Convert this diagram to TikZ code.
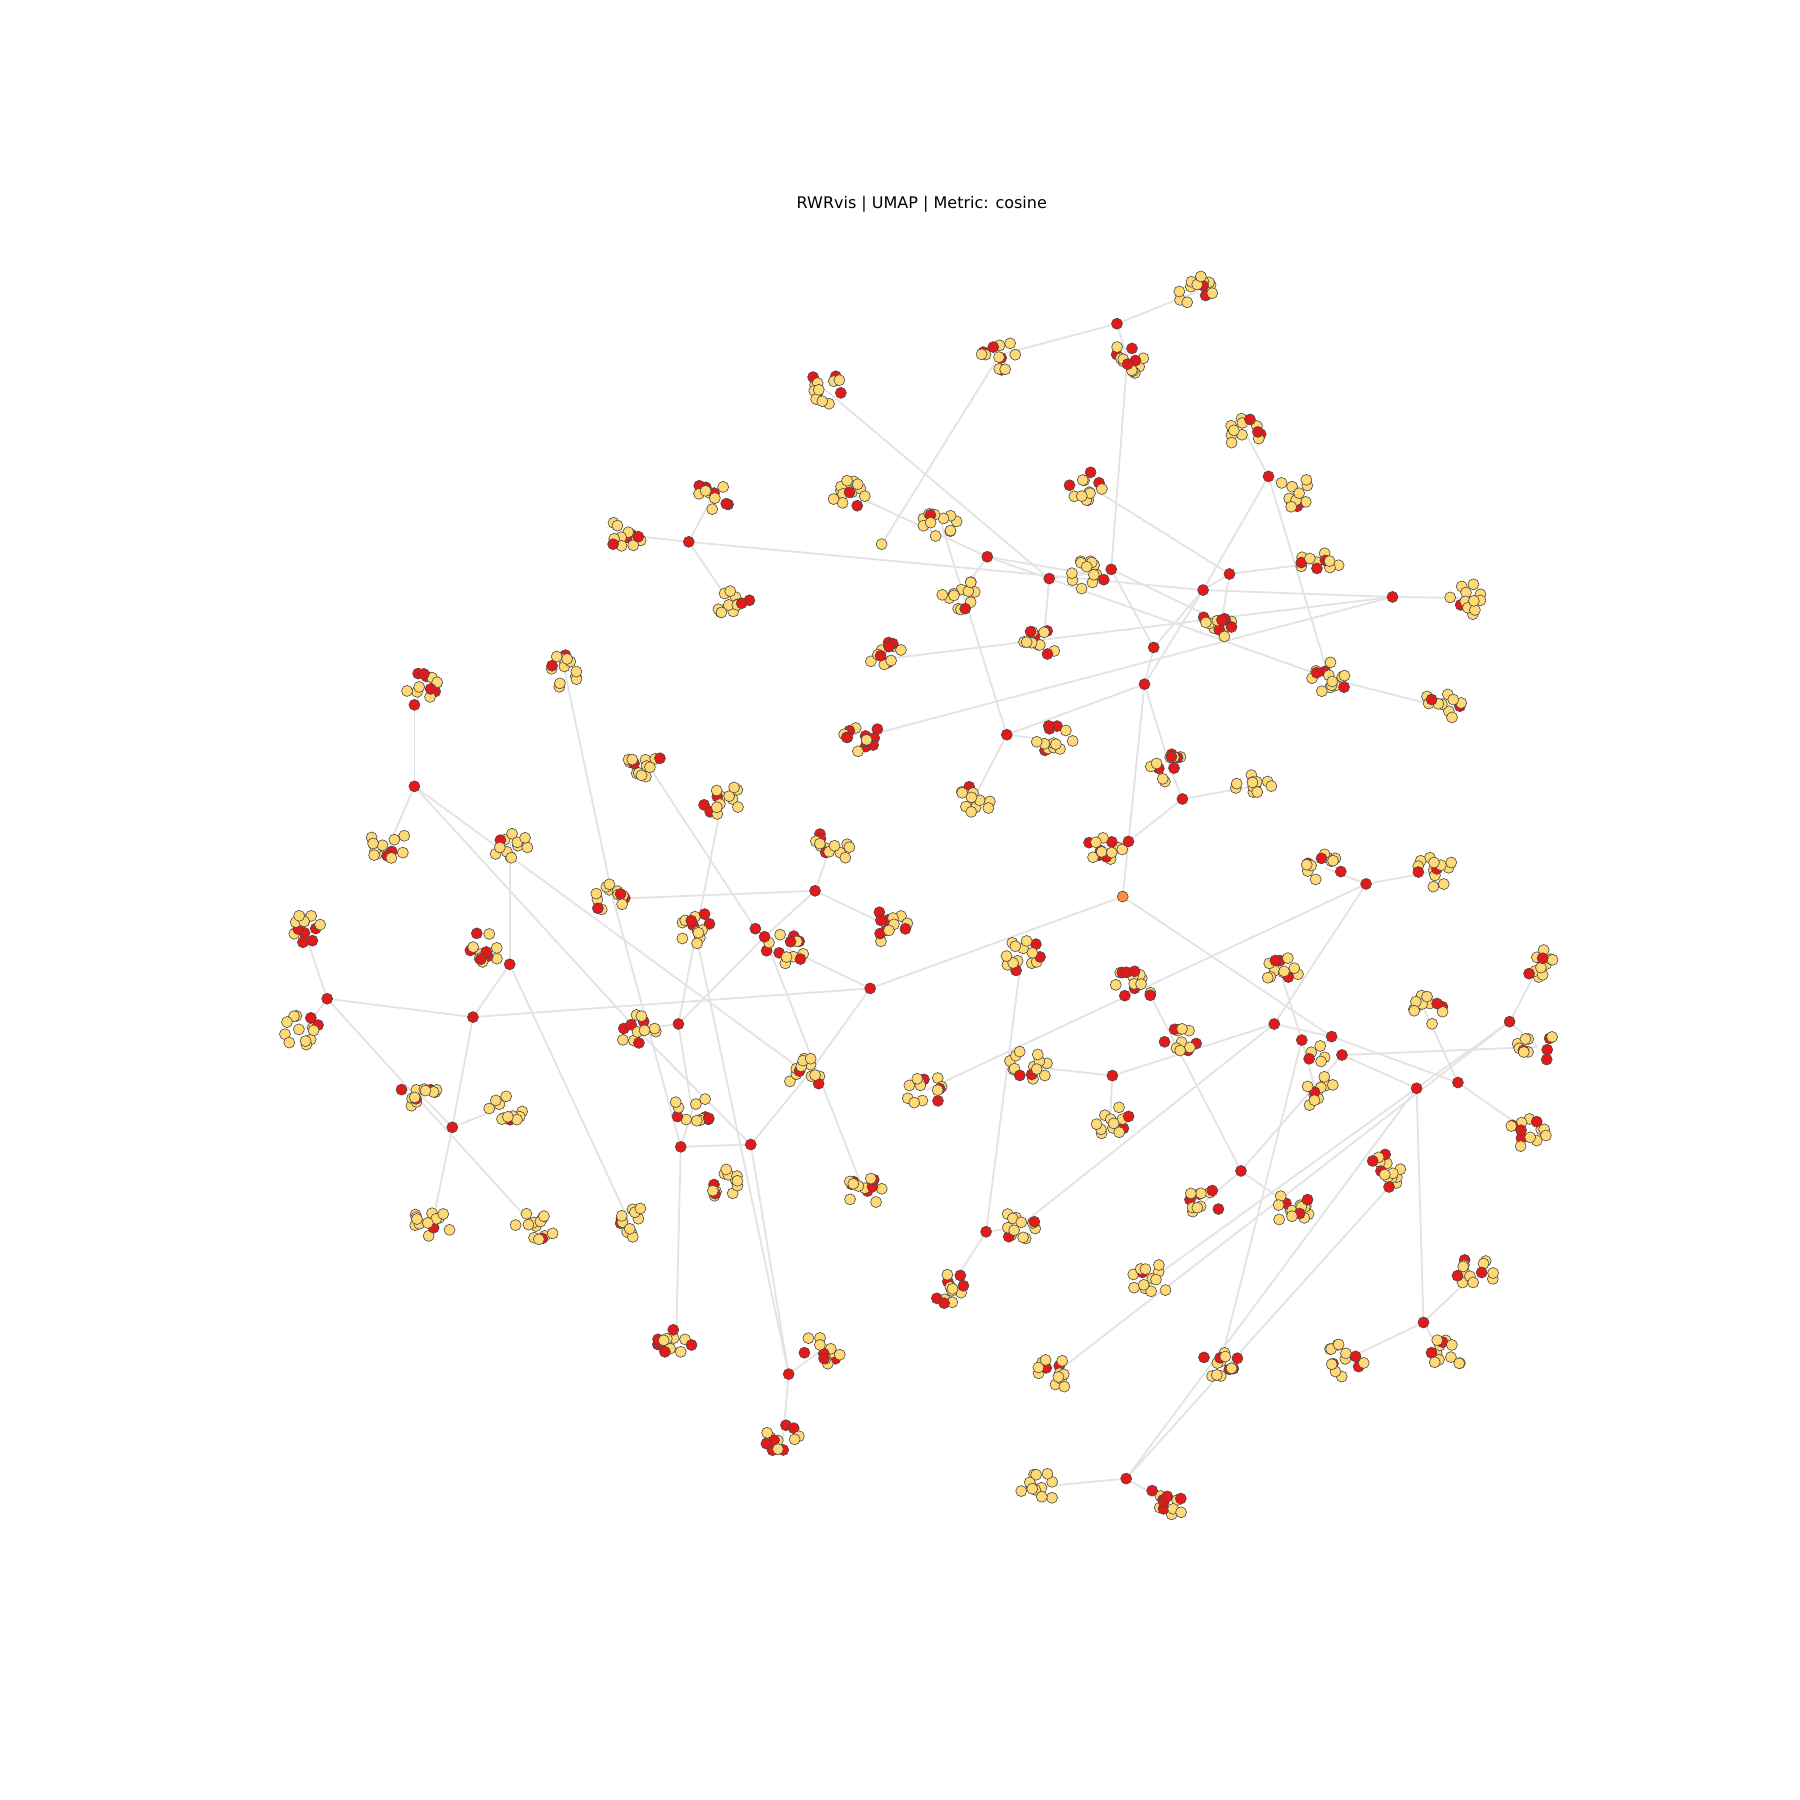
\documentclass[tikz,border=0pt]{standalone}
\usepackage{fontspec}
\setmainfont{DejaVu Sans}
\usetikzlibrary{backgrounds}
\definecolor{nyel}{HTML}{FED976}
\definecolor{nred}{HTML}{E31A1C}
\definecolor{norg}{HTML}{FD8D3C}
\definecolor{edgec}{HTML}{E3E3E3}
\tikzset{
  nd/.style={circle, draw=black!72, line width=0.6pt, minimum size=11pt, inner sep=0pt},
  hub/.style={nd, fill=nred},
  yel/.style={nd, fill=nyel},
  org/.style={nd, fill=norg},
  col0/.style={fill=nyel},
  col1/.style={fill=nred},
  edge/.style={draw=edgec, line width=1.8pt},
  ttl/.style={font=\fontsize{16}{19}\selectfont, text=black}
}
\newcommand\mkclus[4]{%
  \coordinate (#1) at (#2,#3);
  \foreach \k in {1,...,#4}{
    \pgfmathsetmacro\rr{sqrt(rnd)}
    \pgfmathsetmacro\aa{360*rnd}
    \pgfmathsetmacro\dx{#2+17.5*\rr*cos(\aa)}
    \pgfmathsetmacro\dy{#3+14.5*\rr*sin(\aa)}
    \pgfmathtruncatemacro\cc{rnd<0.25}
    \node[nd, col\cc] (#1-\k) at (\dx,\dy) {};
  }%
}
\begin{document}
\begin{tikzpicture}[x=1.148pt,y=-1.148pt]
\useasboundingbox (0,0) rectangle (1568,1568);
\pgfmathsetseed{31415}
\node[ttl] (title) at (803,178) {RWRvis | UMAP | Metric: cosine};

% clusters
\mkclus{c1}{1043}{254}{13}
\mkclus{c3}{871}{309}{12}
\mkclus{c4}{982}{312}{13}
\mkclus{c5}{717}{338}{13}
\mkclus{c6}{1084}{376}{13}
\mkclus{c8}{1126}{427}{13}
\mkclus{c9}{622}{430}{12}
\mkclus{c10}{743}{431}{13}
\mkclus{c11}{948}{423}{12}
\mkclus{c12}{545}{466}{13}
\mkclus{c14}{819}{453}{13}
\mkclus{c18}{948}{500}{14}
\mkclus{c20}{1150}{490}{12}
\mkclus{c24}{1279}{521}{12}
\mkclus{c25}{1064}{542}{14}
\mkclus{c26}{638}{528}{12}
\mkclus{c27}{837}{517}{13}
\mkclus{c28}{909}{558}{12}
\mkclus{c29}{772}{574}{12}
\mkclus{c32}{1158}{591}{14}
\mkclus{c33}{1256}{616}{12}
\mkclus{c34}{370}{597}{12}
\mkclus{c35}{492}{585}{13}
\mkclus{c38}{563}{664}{13}
\mkclus{c39}{629}{697}{13}
\mkclus{c40}{751}{642}{13}
\mkclus{c42}{917}{645}{13}
\mkclus{c43}{847}{698}{12}
\mkclus{c44}{1019}{668}{13}
\mkclus{c46}{1092}{685}{12}
\mkclus{c47}{339}{736}{12}
\mkclus{c48}{444}{734}{12}
\mkclus{c49}{723}{739}{13}
\mkclus{c50}{964}{740}{13}
\mkclus{c54}{534}{783}{13}
\mkclus{c55}{264}{808}{13}
\mkclus{c56}{424}{825}{12}
\mkclus{c58}{605}{808}{13}
\mkclus{c59}{775}{807}{12}
\mkclus{c62}{685}{826}{13}
\mkclus{c63}{890}{832}{14}
\mkclus{c65}{1154}{756}{12}
\mkclus{c67}{1251}{759}{13}
\mkclus{c68}{987}{858}{13}
\mkclus{c70}{1115}{846}{12}
\mkclus{c71}{1341}{841}{12}
\mkclus{c72}{1241}{880}{12}
\mkclus{c74}{1339}{912}{11}
\mkclus{c76}{264}{898}{13}
\mkclus{c78}{555}{897}{12}
\mkclus{c80}{1029}{906}{12}
\mkclus{c85}{1145}{916}{5}
\mkclus{c86}{1146}{950}{12}
\mkclus{c89}{1330}{985}{13}
\mkclus{c90}{704}{936}{13}
\mkclus{c91}{806}{950}{13}
\mkclus{c92}{896}{929}{14}
\mkclus{c94}{967}{977}{12}
\mkclus{c95}{364}{951}{13}
\mkclus{c96}{442}{963}{12}
\mkclus{c98}{603}{968}{12}
\mkclus{c101}{632}{1032}{13}
\mkclus{c102}{753}{1039}{14}
\mkclus{c103}{377}{1064}{13}
\mkclus{c104}{466}{1069}{13}
\mkclus{c105}{548}{1064}{12}
\mkclus{c106}{1050}{1046}{11}
\mkclus{c107}{1002}{1115}{13}
\mkclus{c109}{1125}{1051}{14}
\mkclus{c111}{1209}{1018}{13}
\mkclus{c112}{1284}{1110}{13}
\mkclus{c114}{1171}{1185}{13}
\mkclus{c115}{1257}{1181}{12}
\mkclus{c116}{1063}{1188}{13}
\mkclus{c119}{887}{1069}{13}
\mkclus{c120}{827}{1123}{13}
\mkclus{c123}{716}{1176}{12}
\mkclus{c125}{589}{1166}{12}
\mkclus{c126}{682}{1254}{13}
\mkclus{c127}{917}{1198}{13}
\mkclus{c128}{906}{1295}{12}
\mkclus{c130}{1016}{1308}{12}

% hubs
\node[hub] (h2) at (973,282) {};
\node[hub] (h7) at (1105,415) {};
\node[hub] (h13) at (600,472) {};
\node[hub] (h16) at (860,485) {};
\node[hub] (h17) at (914,504) {};
\node[hub] (h19) at (968,496) {};
\node[hub] (h21) at (1071,500) {};
\node[hub] (h22) at (1048,514) {};
\node[hub] (h23) at (1213,520) {};
\node[hub] (h30) at (1005,564) {};
\node[hub] (h31) at (997,596) {};
\node[hub] (h36) at (361,614) {};
\node[hub] (h37) at (361,685) {};
\node[hub] (h41) at (877,640) {};
\node[hub] (h45) at (1030,696) {};
\node[hub] (h51) at (983,733) {};
\node[org] (o52) at (978,781) {};
\node[hub] (h53) at (710,776) {};
\node[hub] (h57) at (444,840) {};
\node[hub] (h60) at (658,809) {};
\node[hub] (h61) at (666,816) {};
\node[hub] (h64) at (758,861) {};
\node[hub] (h66) at (1190,770) {};
\node[hub] (h69) at (1002,867) {};
\node[hub] (h73) at (1315,890) {};
\node[hub] (h75) at (285,870) {};
\node[hub] (h77) at (412,886) {};
\node[hub] (h79) at (591,892) {};
\node[hub] (h81) at (1110,892) {};
\node[hub] (h82) at (1134,906) {};
\node[hub] (h83) at (1160,903) {};
\node[hub] (h84) at (1169,919) {};
\node[hub] (h87) at (1234,948) {};
\node[hub] (h88) at (1270,943) {};
\node[hub] (h93) at (969,937) {};
\node[hub] (h97) at (394,982) {};
\node[hub] (h99) at (593,999) {};
\node[hub] (h100) at (654,997) {};
\node[hub] (h108) at (1081,1020) {};
\node[hub] (h110) at (1139,1045) {};
\node[hub] (h111) at (1210,1034) {};
\node[hub] (h113) at (1240,1152) {};
\node[hub] (h118) at (859,1073) {};
\node[hub] (h124) at (687,1197) {};
\node[hub] (h129) at (981,1288) {};
\node[yel] (y15) at (768,474) {};

\begin{pgfonlayer}{background}
\fill[white] (0,0) rectangle (1568,1568);
\foreach \a/\b in {h2/c1, h2/c3, h2/c4, c3/y15, c4/h19, c5/h17, c6/h7, h7/c8,
  h7/h22, h7/c32, c9/h13, c12/h13, h13/c26, h13/h22, c10/h16, h16/c18,
  h16/h17, h16/c27, h17/c18, h17/c28, h17/c32, c11/h21, h19/h30, h19/c25,
  h21/h22, h21/c20, h21/c25, h22/h23, h22/h30, h22/h31, h23/c24, c29/h23,
  c40/h23, h30/h31, h31/h41, h31/c44, h31/h51, c14/h41, h41/c42, h41/c43,
  h45/c44, h45/c46, h45/h51, h51/c50, h51/o52, o52/h64, o52/h83, c32/c33,
  h36/c34, h36/h37, h37/c47, h37/c90, h37/c78, c48/h57, c35/c54, c54/h53,
  c54/h99, c38/h60, c39/h79, c58/h124, h53/c49, h53/c59, h53/h61, h61/c102,
  h79/h61, c62/h64, h64/h77, h64/c90, h57/c105, h57/h77, h75/c55, h75/c76,
  h75/h77, h75/c104, h77/h97, h97/c95, h97/c96, h97/c103, h79/c78, h79/c98,
  h99/c98, h99/h100, h99/c125, h100/h124, h100/c90, c78/h100, h124/c123,
  h124/c126, c63/h118, h118/c119, h118/c120, h81/c119, c91/h66, h66/c65,
  h66/c67, h66/h81, c92/h93, h93/h81, h93/c94, h69/h108, h108/c106,
  h108/c109, h108/h84, c70/h82, h82/c86, h82/c116, h81/h83, h83/h88,
  h83/c85, h84/h87, h84/c74, h73/c71, h73/c74, h73/h87, h73/c127, h87/h113,
  h87/c107, h87/h129, h88/c72, h88/c89, h113/c112, h113/c114, h113/c115,
  h129/c128, h129/c130, h129/h111}
  {\draw[edge] (\a) -- (\b);}
\end{pgfonlayer}
\end{tikzpicture}
\end{document}
